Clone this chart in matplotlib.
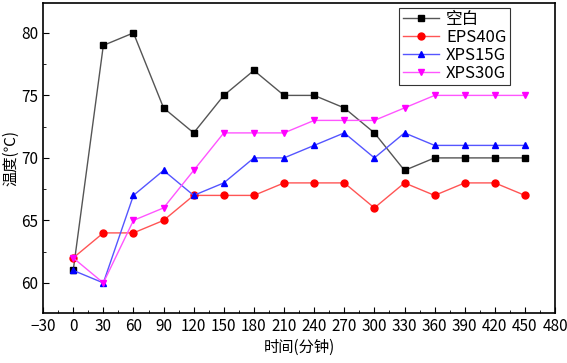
import matplotlib.pyplot as plt
from matplotlib.ticker import MultipleLocator

plt.rcParams["font.family"] = ["Noto Sans CJK SC", "DejaVu Sans"]

time_min = [0, 30, 60, 90, 120, 150, 180, 210, 240, 270, 300, 330, 360, 390, 420, 450]
blank = [61, 79, 80, 74, 72, 75, 77, 75, 75, 74, 72, 69, 70, 70, 70, 70]
eps40g = [62, 64, 64, 65, 67, 67, 67, 68, 68, 68, 66, 68, 67, 68, 68, 67]
xps15g = [61, 60, 67, 69, 67, 68, 70, 70, 71, 72, 70, 72, 71, 71, 71, 71]
xps30g = [62, 60, 65, 66, 69, 72, 72, 72, 73, 73, 73, 74, 75, 75, 75, 75]

series = [
    ("空白", blank, "#000000", "#555555", "s"),
    ("EPS40G", eps40g, "#ff0000", "#ff5555", "o"),
    ("XPS15G", xps15g, "#0000ff", "#5555ff", "^"),
    ("XPS30G", xps30g, "#ff00ff", "#ff55ff", "v"),
]

fig = plt.figure(figsize=(5.67, 3.63), dpi=100)
ax = fig.add_axes([0.076, 0.138, 0.903, 0.854])

for name, vals, mc, lc, m in series:
    ax.plot(time_min, vals, color=lc, lw=1.0, marker=m, markersize=5,
            markerfacecolor=mc, markeredgecolor=mc, label=name)

ax.set_xlim(-30, 480)
ax.set_ylim(57.6, 82.4)
ax.xaxis.set_major_locator(MultipleLocator(30))
ax.xaxis.set_minor_locator(MultipleLocator(15))
ax.yaxis.set_major_locator(MultipleLocator(5))
ax.yaxis.set_minor_locator(MultipleLocator(2.5))
ax.tick_params(which="both", direction="in", top=False, right=False)
ax.tick_params(which="major", length=4, labelsize=11)
ax.tick_params(which="minor", length=2)
for s in ax.spines.values():
    s.set_linewidth(1.2)

ax.set_xlabel("时间(分钟)", fontsize=11, labelpad=3)
ax.set_ylabel("温度(℃)", fontsize=11, labelpad=1)

leg = ax.legend(loc="upper right", bbox_to_anchor=(0.918, 0.995), fontsize=12,
                fancybox=False, edgecolor="#333333", framealpha=1,
                borderpad=0.2, labelspacing=0.05, handlelength=2.2,
                handletextpad=0.4, borderaxespad=0.2)
leg.get_frame().set_linewidth(0.8)

fig.savefig("out.png", dpi=100)
